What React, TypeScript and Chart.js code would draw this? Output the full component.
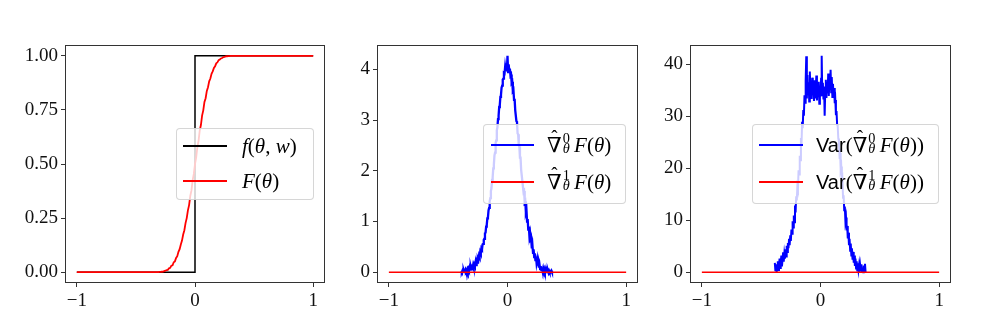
import React, { useEffect, useRef } from "react";
import { Chart, registerables } from "chart.js";

Chart.register(...registerables);

// ---------- data ----------
const xTicks = [-1, 0, 1];
const cdfYTicks = [0, 0.25, 0.5, 0.75, 1];
const gradYTicks = [0, 1, 2, 3, 4];
const varYTicks = [0, 10, 20, 30, 40];

// f(theta, w): step function
const stepTheta = [-1, 0, 0, 1];
const stepValues = [0, 0, 1, 1];

// F(theta): empirical smooth CDF, sampled every 0.01 from -0.32 to 0.32
const cdfStart = -0.32;
const cdfStep = 0.01;
const cdfValues = [
  0.0, 0.0, 0.001, 0.001, 0.002, 0.003, 0.005, 0.007, 0.01, 0.011, 0.018, 0.02, 0.03, 0.032, 0.046, 0.05,
  0.066, 0.074, 0.094, 0.106, 0.128, 0.146, 0.174, 0.194, 0.227, 0.25, 0.286, 0.31, 0.352, 0.378, 0.424, 0.454,
  0.499,
  0.531, 0.578, 0.607, 0.654, 0.68, 0.724, 0.748, 0.787, 0.804, 0.838, 0.855, 0.882, 0.895, 0.917, 0.928, 0.944,
  0.952, 0.965, 0.97, 0.98, 0.983, 0.988, 0.99, 0.994, 0.995, 0.997, 0.998, 0.999, 0.999, 1.0, 1.0, 1.0,
];
const cdfEnds = { left: [-1, 0], right: [1, 1] };

// grad estimator 0 (noisy), sampled every 0.005 from -0.39
const gradStart = -0.39;
const gradStep = 0.005;
const grad0Values = [
  0.02, 0.0, 0.03, 0.01, 0.04, 0.0, 0.02, 0.05, 0.01, 0.03,
  0.06, 0.02, 0.07, 0.04, 0.09, 0.05, 0.11, 0.06, 0.1, 0.08,
  0.14, 0.09, 0.15, 0.12, 0.19, 0.14, 0.22, 0.19, 0.27, 0.24,
  0.33, 0.3, 0.4, 0.37, 0.47, 0.45, 0.55, 0.56, 0.64, 0.66,
  0.77, 0.78, 0.9, 0.93, 1.06, 1.08, 1.22, 1.27, 1.4, 1.46,
  1.6, 1.66, 1.82, 1.88, 2.05, 2.12, 2.3, 2.36, 2.55, 2.6,
  2.8, 2.86, 3.02, 3.09, 3.26, 3.3, 3.46, 3.5, 3.64, 3.68,
  3.8, 3.82, 3.93, 3.92, 4.05, 3.96, 4.12, 3.98, 4.27, 3.95,
  4.1, 3.97, 4.02, 3.88, 3.9, 3.74, 3.76, 3.58, 3.6, 3.4,
  3.42, 3.2, 3.2, 2.98, 2.96, 2.74, 2.72, 2.5, 2.48, 2.26,
  2.26, 2.02, 2.02, 1.8, 1.8, 1.58, 1.6, 1.38, 1.4, 1.18,
  1.22, 1.0, 1.05, 0.84, 0.9, 0.7, 0.76, 0.58, 0.64, 0.47,
  0.54, 0.38, 0.45, 0.3, 0.37, 0.24, 0.31, 0.18, 0.25, 0.13,
  0.2, 0.09, 0.15, 0.06, 0.12, 0.04, 0.09, 0.03, 0.08, 0.02,
  0.06, 0.01, 0.05, 0.0, 0.04, 0.01, 0.04, 0.0, 0.03, 0.0,
  0.02, 0.01, 0.03, 0.0,
];
// grad estimator 1: identically zero over [-1, 1]
const grad1Theta = [-1, 1];
const grad1Values = [0, 0];

// variance of estimator 0, sampled every 0.005 from -0.385
const varStart = -0.385;
const varStep = 0.005;
const var0Values = [
  1.8, 0.2, 1.5, 0.0, 0.9, 2.1, 0.4, 1.2, 2.6, 0.8,
  1.9, 3.2, 1.1, 2.4, 3.8, 2.0, 3.5, 2.6, 4.4, 3.0,
  5.1, 3.9, 5.6, 4.6, 6.4, 5.2, 7.1, 6.0, 8.2, 7.4,
  9.8, 8.6, 10.9, 9.6, 12.8, 11.5, 14.6, 13.8, 16.4, 15.9,
  19.6, 18.8, 22.4, 21.5, 25.8, 24.6, 28.9, 27.7, 31.2, 30.1,
  34.0, 32.6, 36.8, 41.5, 33.4, 37.9, 34.2, 36.5, 32.8, 38.6,
  34.9, 36.1, 33.3, 37.4, 34.5, 35.8, 32.9, 36.9, 33.6, 35.2,
  37.8, 33.0, 35.9, 34.1, 36.6, 32.4, 35.5, 33.8, 37.2, 41.6,
  34.0, 36.4, 33.2, 35.7, 30.1, 34.8, 37.0, 33.5, 36.3, 34.4,
  38.2, 33.9, 36.8, 35.1, 38.9, 34.6, 37.5, 33.7, 36.2, 34.0,
  35.4, 32.5, 33.1, 30.2, 31.0, 28.4, 28.1, 25.7, 25.2, 22.6,
  22.9, 19.8, 20.3, 17.0, 17.6, 14.3, 14.8, 11.9, 12.6, 9.8,
  10.5, 8.0, 8.9, 6.5, 7.6, 5.2, 6.4, 4.1, 5.5, 3.2,
  4.6, 2.4, 3.9, 1.8, 3.2, 1.2, 2.6, 0.7, 2.1, 0.3,
  1.7, 0.5, 1.4, 0.0, 1.2, 0.2, 1.5, 0.1, 0.9, 0.0,
  1.3, 0.3, 1.6, 0.0,
];
const var1Theta = [-1, 1];
const var1Values = [0, 0];

// ---------- helpers ----------
const gridPoints = (start: number, step: number, vals: number[]) =>
  vals.map((v, i) => ({ x: +(start + i * step).toFixed(4), y: v }));
const pairPoints = (xs: number[], ys: number[]) => xs.map((x, i) => ({ x, y: ys[i] }));

const SERIF = '"Liberation Serif", "DejaVu Serif", serif';
const SANS = '"Liberation Sans", "DejaVu Sans", sans-serif';
const TOP = 45;
const BOTTOM = 283;
const H = 326;
const YW = 62;
const XH = 32;
const RP = 12;

const fmtX = (v: number) => (v < 0 ? "\u2212" + Math.abs(v) : String(v));

const framePlugin = {
  id: "frame",
  afterDatasetsDraw(chart: any) {
    const { ctx, chartArea: a } = chart;
    ctx.save();
    ctx.strokeStyle = "#333";
    ctx.lineWidth = 1;
    ctx.strokeRect(Math.round(a.left) + 0.5, Math.round(a.top) + 0.5, Math.round(a.right - a.left) - 1, Math.round(a.bottom - a.top) - 1);
    ctx.restore();
  },
};

type PanelProps = {
  left: number;
  right: number;
  datasets: any[];
  yTicks: number[];
  yMin: number;
  yMax: number;
  yFmt: (v: number) => string;
};

function Panel({ left, right, datasets, yTicks, yMin, yMax, yFmt }: PanelProps) {
  const ref = useRef<HTMLCanvasElement>(null);
  const cw = right - left + YW + RP;
  useEffect(() => {
    const tickFont = { family: SERIF, size: 19 };
    const grid = {
      display: true,
      drawOnChartArea: false,
      drawTicks: true,
      tickLength: 4,
      tickColor: "#333",
      lineWidth: 1,
    };
    const chart = new Chart(ref.current as HTMLCanvasElement, {
      type: "line",
      data: { datasets },
      options: {
        animation: false,
        responsive: false,
        devicePixelRatio: 1,
        layout: { padding: { left: 0, right: RP, top: TOP, bottom: H - BOTTOM - XH } },
        plugins: { legend: { display: false }, tooltip: { enabled: false } },
        elements: { point: { radius: 0 }, line: { tension: 0 } },
        scales: {
          x: {
            type: "linear",
            min: -1.1,
            max: 1.1,
            grid,
            border: { display: false },
            ticks: { font: tickFont, color: "#111", padding: 3, maxRotation: 0, callback: (v: any) => fmtX(Number(v)) },
            afterBuildTicks: (s: any) => {
              s.ticks = xTicks.map((v) => ({ value: v }));
            },
            afterFit: (s: any) => {
              s.height = XH;
            },
          },
          y: {
            type: "linear",
            min: yMin,
            max: yMax,
            grid,
            border: { display: false },
            ticks: { font: tickFont, color: "#111", padding: 3, callback: (v: any) => yFmt(Number(v)) },
            afterBuildTicks: (s: any) => {
              s.ticks = yTicks.map((v) => ({ value: v }));
            },
            afterFit: (s: any) => {
              s.width = YW;
            },
          },
        },
      } as any,
      plugins: [framePlugin],
    });
    return () => chart.destroy();
  }, []);
  return (
    <canvas
      ref={ref}
      width={cw}
      height={H}
      style={{ position: "absolute", left: left - YW, top: 0, width: cw, height: H }}
    />
  );
}

function Hat() {
  return (
    <span style={{ position: "relative", display: "inline-block" }}>
      {"\u2207"}
      <span
        style={{
          position: "absolute",
          left: "50%",
          top: "-0.42em",
          transform: "translateX(-50%)",
          fontSize: "0.9em",
        }}
      >
        {"\u02c6"}
      </span>
    </span>
  );
}

function SupSub({ sup }: { sup: string }) {
  return (
    <span
      style={{
        display: "inline-block",
        position: "relative",
        width: "0.45em",
        height: "1em",
        verticalAlign: "baseline",
        marginLeft: 1,
        marginRight: 2,
      }}
    >
      <span style={{ position: "absolute", left: 0, top: "-0.5em", fontSize: "0.68em" }}>{sup}</span>
      <span style={{ position: "absolute", left: 0, top: "0.2em", fontSize: "0.68em", fontStyle: "italic" }}>{"\u03b8"}</span>
    </span>
  );
}

function GradF({ k }: { k: string }) {
  return (
    <span>
      <Hat />
      <SupSub sup={k} />
      <i>F</i>(<i>{"\u03b8"}</i>)
    </span>
  );
}

type LegendRow = { color: string; y: number; content: React.ReactNode };

function Legend({
  box,
  lineX,
  textX,
  rows,
}: {
  box: { l: number; t: number; w: number; h: number };
  lineX: [number, number];
  textX: number;
  rows: LegendRow[];
}) {
  return (
    <>
      <div
        style={{
          position: "absolute",
          left: box.l,
          top: box.t,
          width: box.w,
          height: box.h,
          boxSizing: "border-box",
          background: "rgba(255,255,255,0.8)",
          border: "1px solid rgba(204,204,204,0.8)",
          borderRadius: 4,
        }}
      />
      {rows.map((r, i) => (
        <React.Fragment key={i}>
          <div
            style={{
              position: "absolute",
              left: lineX[0],
              top: r.y - 0.75,
              width: lineX[1] - lineX[0],
              height: 1.5,
              background: r.color,
            }}
          />
          <div
            style={{
              position: "absolute",
              left: textX,
              top: r.y - 14,
              height: 28,
              lineHeight: "28px",
              fontFamily: SERIF,
              fontSize: 21,
              color: "#000",
              whiteSpace: "nowrap",
            }}
          >
            {r.content}
          </div>
        </React.Fragment>
      ))}
    </>
  );
}

export default function App() {
  const cdfPts = [
    { x: cdfEnds.left[0], y: cdfEnds.left[1] },
    ...gridPoints(cdfStart, cdfStep, cdfValues),
    { x: cdfEnds.right[0], y: cdfEnds.right[1] },
  ];
  const g0 = gridPoints(gradStart, gradStep, grad0Values);
  const v0 = gridPoints(varStart, varStep, var0Values);
  const gMax = Math.max(...grad0Values);
  const vMax = Math.max(...var0Values);

  const ds = (data: any[], color: string, order: number, width = 1.5) => ({
    data,
    borderColor: color,
    backgroundColor: color,
    borderWidth: width,
    pointRadius: 0,
    fill: false,
    order,
  });

  return (
    <div style={{ position: "absolute", left: 0, top: 0, width: 990, height: 326, background: "#fff", overflow: "hidden" }}>
      <Panel
        left={65}
        right={325}
        datasets={[ds(pairPoints(stepTheta, stepValues), "#000000", 2), ds(cdfPts, "#ff0000", 1, 1.8)]}
        yTicks={cdfYTicks}
        yMin={-0.05}
        yMax={1.05}
        yFmt={(v) => v.toFixed(2)}
      />
      <Panel
        left={377}
        right={638}
        datasets={[ds(g0, "#0000ff", 2, 2.3), ds(pairPoints(grad1Theta, grad1Values), "#ff0000", 1)]}
        yTicks={gradYTicks}
        yMin={-gMax * 0.05}
        yMax={gMax * 1.05}
        yFmt={(v) => String(v)}
      />
      <Panel
        left={690}
        right={951}
        datasets={[ds(v0, "#0000ff", 2, 2), ds(pairPoints(var1Theta, var1Values), "#ff0000", 1)]}
        yTicks={varYTicks}
        yMin={-vMax * 0.05}
        yMax={vMax * 1.05}
        yFmt={(v) => String(v)}
      />
      <Legend
        box={{ l: 176, t: 128, w: 138, h: 72 }}
        lineX={[183, 227]}
        textX={242}
        rows={[
          {
            color: "#000",
            y: 146,
            content: (
              <span>
                <i>f</i>(<i>{"\u03b8"}</i>, <i>w</i>)
              </span>
            ),
          },
          {
            color: "#ff0000",
            y: 181,
            content: (
              <span>
                <i>F</i>(<i>{"\u03b8"}</i>)
              </span>
            ),
          },
        ]}
      />
      <Legend
        box={{ l: 483, t: 124, w: 143, h: 80 }}
        lineX={[491, 534]}
        textX={547}
        rows={[
          { color: "#0000ff", y: 145, content: <GradF k="0" /> },
          { color: "#ff0000", y: 182, content: <GradF k="1" /> },
        ]}
      />
      <Legend
        box={{ l: 752, t: 124, w: 187, h: 80 }}
        lineX={[759, 803]}
        textX={816}
        rows={[
          {
            color: "#0000ff",
            y: 145,
            content: (
              <span>
                <span style={{ fontFamily: SANS, fontSize: 20 }}>Var</span>(<GradF k="0" />)
              </span>
            ),
          },
          {
            color: "#ff0000",
            y: 182,
            content: (
              <span>
                <span style={{ fontFamily: SANS, fontSize: 20 }}>Var</span>(<GradF k="1" />)
              </span>
            ),
          },
        ]}
      />
    </div>
  );
}
